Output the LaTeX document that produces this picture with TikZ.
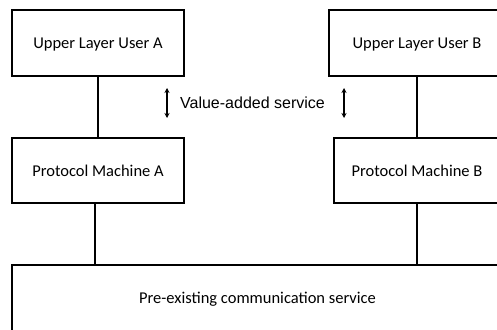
\documentclass[tikz,border=0pt]{standalone}
\usepackage{fontspec}
\setmainfont{Carlito}
\newfontfamily\labelfont{Liberation Sans}
\usetikzlibrary{arrows.meta, calc}

\tikzset{
  layer/.style={draw, line width=2pt, inner sep=0pt, minimum width=172pt, minimum height=66pt,
    text height=11.5pt, text depth=0pt, font=\fontsize{16.5}{20}\selectfont},
  link/.style={line width=2pt},
  updown/.style={{Stealth[length=5pt,width=5pt]}-{Stealth[length=5pt,width=5pt]}, line width=1.3pt},
}

\begin{document}
\begin{tikzpicture}[x=1pt, y=-1pt]
        \useasboundingbox (0,0) rectangle (497,329);
        \clip (0,0) rectangle (497,329);

        \node[layer] (userA) at (98,43) {Upper Layer User A};
        \node[layer, minimum width=176pt] (userB) at (417,43) {Upper Layer User B};
        \node[layer, minimum height=65pt] (pmA) at (98,170.5) {Protocol Machine A};
        \node[layer, minimum width=166pt, minimum height=65pt] (pmB) at (417,170.5) {Protocol Machine B};
        \node[layer, minimum width=491pt] (comm) at (257.5,298) {Pre-existing communication service};

        \draw[link] (userA) -- (pmA);
        \draw[link] (userB) -- (pmB);
        \draw[link] ([xshift=-3pt]pmA.south) -- ([xshift=-3pt]pmA.south |- comm.north);
        \draw[link] (pmB.south) -- (pmB.south |- comm.north);

        \node[font=\labelfont\fontsize{16}{20}\selectfont] (vas) at (252.5,103) {Value-added service};
        \foreach \ax/\nm in {167/l, 344/r} {
            \coordinate (\nm top) at (\ax,88);
            \coordinate (\nm bot) at (\ax,118);
            \draw[updown] (\nm top) -- (\nm bot);
        }

\end{tikzpicture}
\end{document}
